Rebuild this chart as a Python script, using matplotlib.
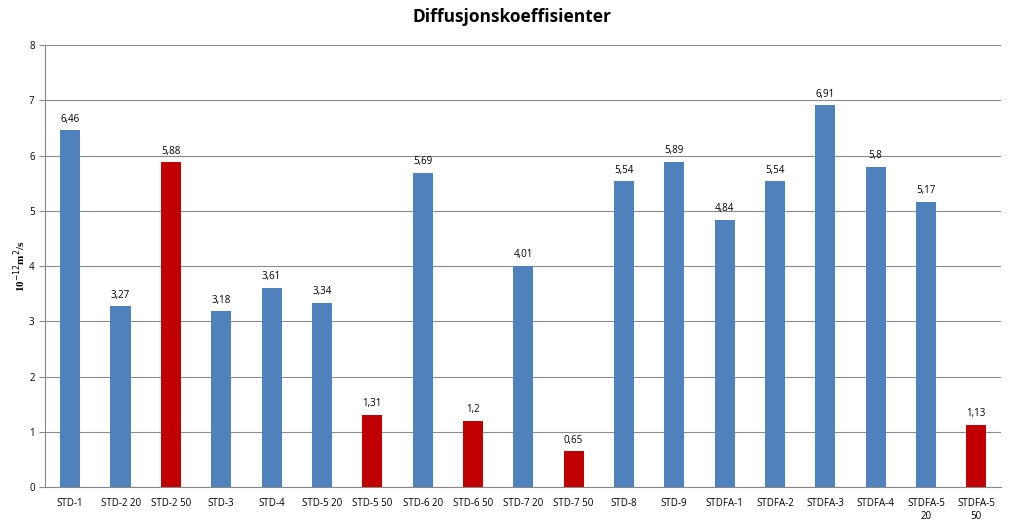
import matplotlib.pyplot as plt
import numpy as np

labels = ["STD-1", "STD-2 20", "STD-2 50", "STD-3", "STD-4", "STD-5 20", "STD-5 50",
          "STD-6 20", "STD-6 50", "STD-7 20", "STD-7 50", "STD-8", "STD-9",
          "STDFA-1", "STDFA-2", "STDFA-3", "STDFA-4", "STDFA-5\n20", "STDFA-5\n50"]
values = [6.46, 3.27, 5.88, 3.18, 3.61, 3.34, 1.31, 5.69, 1.2, 4.01, 0.65,
          5.54, 5.89, 4.84, 5.54, 6.91, 5.8, 5.17, 1.13]
red_bars = ["STD-2 50", "STD-5 50", "STD-6 50", "STD-7 50", "STDFA-5\n50"]

blue = "#4F81BD"
red = "#C00000"
colors = [red if l in red_bars else blue for l in labels]

fig = plt.figure(figsize=(10.24, 5.26), dpi=100)
ax = fig.add_axes([0.044, 0.074, 0.934, 0.84])

x = np.arange(len(labels))
ax.bar(x, values, width=0.4, color=colors, zorder=3)
for xi, v in zip(x, values):
    lab = f"{v:g}".replace(".", ",")
    ax.text(xi, v + 0.1, lab, ha="center", va="bottom", fontsize=7, family="Open Sans")

ax.set_xlim(-0.5, len(labels) - 0.5)
ax.set_ylim(0, 8)
ax.set_yticks(range(0, 9))
ax.yaxis.grid(True, color="#8c8c8c", linewidth=0.8, zorder=0)
ax.set_xticks(x)
ax.set_xticklabels(labels, fontsize=7, family="Open Sans")
ax.tick_params(axis="y", labelsize=7, length=4, color="#888888")
ax.tick_params(axis="x", length=0, pad=8)
for lbl in ax.get_yticklabels():
    lbl.set_family("Open Sans")
for s in ["top", "right"]:
    ax.spines[s].set_visible(False)
for s in ["left", "bottom"]:
    ax.spines[s].set_color("#888888")

ax.set_ylabel(r"10$^{-12}$m$^{2}$/s", family="Liberation Serif", fontweight="bold", fontsize=8, labelpad=1)
fig.suptitle("Diffusjonskoeffisienter", x=0.5, y=0.985, fontsize=12.5, fontweight="bold", family="Open Sans")

fig.savefig("out.png", dpi=100)
